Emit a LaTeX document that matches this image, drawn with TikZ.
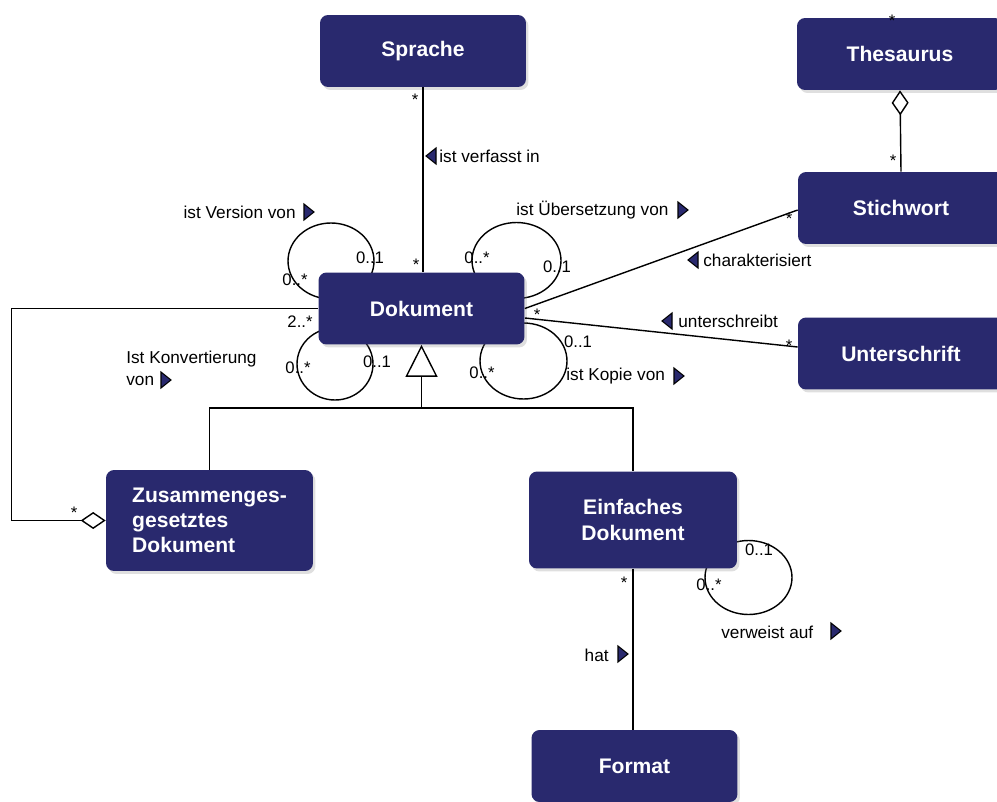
\documentclass[tikz,border=0pt]{standalone}
\usepackage{fontspec}
\setmainfont{Liberation Sans}
\usetikzlibrary{arrows.meta,shadows,backgrounds}
\definecolor{classblue}{RGB}{41,41,110}
\tikzset{
  cls/.style={rectangle, rounded corners=0.16cm, fill=classblue, text=white,
    font=\fontsize{12}{14.5}\selectfont\bfseries, minimum width=4.12cm, minimum height=1.44cm,
    drop shadow={shadow xshift=0.05cm, shadow yshift=-0.06cm, opacity=0.25}},
  mult/.style={inner sep=0pt, font=\fontsize{9.5}{11}\selectfont},
  lbl/.style={inner sep=0pt, font=\fontsize{9.8}{12.5}\selectfont},
  assoc/.style={line width=0.8pt},
  agg/.style={assoc, {Diamond[open, length=0.5cm, width=0.34cm]}-},
  gen/.style={assoc, -{Triangle[open, length=0.64cm, width=0.64cm]}},
  rtri/.pic={\draw[fill=classblue, line width=0.6pt] (-5,-8) -- (5,0) -- (-5,8) -- cycle;},
  ltri/.pic={\draw[fill=classblue, line width=0.6pt] (5,-8) -- (-5,0) -- (5,8) -- cycle;},
}
\begin{document}
\begin{tikzpicture}[x=0.02cm, y=-0.02cm]
    \useasboundingbox (0,0) rectangle (997,801);
    % classes
    \node[cls] (sprache) at (423, 51) {Sprache};
    \node[cls] (thesaurus) at (900, 54) {Thesaurus};
    \node[cls] (stichwort) at (901, 208) {Stichwort};
    \node[cls] (dokument) at (421.5, 308.5) {Dokument};
    \node[cls] (unterschrift) at (901, 353.5) {Unterschrift};
    \node[cls, align=left, minimum width=4.14cm, minimum height=2.02cm, font=\fontsize{12}{14.2}\selectfont\bfseries] (zusammen) at (209.5, 520.5) {Zusammenges-\\gesetztes\\Dokument};
    \node[cls, align=center, minimum width=4.16cm, minimum height=1.94cm] (einfach) at (633, 520) {Einfaches\\Dokument};
    \node[cls] (format) at (634.5, 766) {Format};

    % self loops
    \begin{scope}[on background layer]
        \draw[assoc] ([shift={(-90.5,-47.5)}]dokument.center) ellipse [x radius=0.86cm, y radius=0.76cm];
        \draw[assoc] ([shift={(95,-48)}]dokument.center) ellipse [x radius=0.89cm, y radius=0.76cm];
        \draw[assoc] ([shift={(-86.5,55.5)}]dokument.center) ellipse [x radius=0.76cm, y radius=0.72cm];
        \draw[assoc] ([shift={(102,52.5)}]dokument.center) ellipse [x radius=0.87cm, y radius=0.76cm];
        \draw[assoc] ([shift={(115.5,57.5)}]einfach.center) ellipse [x radius=0.87cm, y radius=0.74cm];
    \end{scope}

    % associations
    \draw[assoc] (sprache.south) -- (sprache.south |- dokument.north);
    \draw[agg] (thesaurus.south) -- (stichwort.north);
    \draw[assoc] (dokument.east) -- ([yshift=-0.04cm]stichwort.west);
    \draw[assoc] ([yshift=-0.19cm]dokument.east) -- ([yshift=0.13cm]unterschrift.west);
    \draw[agg] (zusammen.west) -- ++(-94,0) |- (dokument.west);
    \draw[assoc] (einfach.south) -- (einfach.south |- format.north);

    % generalization
    \coordinate (genjoin) at (dokument.south |- 0,408);
    \draw[assoc] (zusammen.north) |- (genjoin) -| (einfach.north);
    \draw[gen] (genjoin) -- (dokument.south);

    % association names
    \node[lbl, anchor=east] (lversion) at (296, 212) {ist Version von};
    \pic at (309, 212) {rtri};
    \node[lbl, anchor=west] (lverfasst) at (439, 156) {ist verfasst in};
    \pic at (431, 156) {ltri};
    \node[lbl, anchor=west] (luebers) at (516, 210) {ist Übersetzung von};
    \pic at (683, 210) {rtri};
    \node[lbl, anchor=west] (lcharakt) at (703, 260) {charakterisiert};
    \pic at (693, 260) {ltri};
    \node[lbl, anchor=west] (lunter) at (678, 321) {unterschreibt};
    \pic at (667, 321) {ltri};
    \node[lbl, anchor=north west, align=left] (lkonv) at (126, 351) {Ist Konvertierung\\von};
    \pic at (166, 380) {rtri};
    \node[lbl, anchor=west] (lkopie) at (566, 376) {ist Kopie von};
    \pic at (679, 376) {rtri};
    \node[lbl, anchor=east] (lhat) at (609, 655) {hat};
    \pic at (623, 654) {rtri};
    \node[lbl, anchor=west] (lverweist) at (721, 632) {verweist auf};
    \pic at (836, 631) {rtri};

    % multiplicities
    \node[mult] (m1) at (415, 100) {*};
    \node[mult] (m2) at (416, 265) {*};
    \node[mult] (m3) at (892, 21) {*};
    \node[mult] (m4) at (893, 161) {*};
    \node[mult] (m5) at (789, 219) {*};
    \node[mult] (m6) at (537, 315) {*};
    \node[mult] (m7) at (789, 346) {*};
    \node[mult] (m8) at (295, 280) {0..*};
    \node[mult] (m9) at (370, 258) {0..1};
    \node[mult] (m10) at (477, 258) {0..*};
    \node[mult] (m11) at (557, 267) {0..1};
    \node[mult] (m12) at (300, 322) {2..*};
    \node[mult] (m13) at (298, 368) {0..*};
    \node[mult] (m14) at (377, 362) {0..1};
    \node[mult] (m15) at (482, 373) {0..*};
    \node[mult] (m16) at (578, 342) {0..1};
    \node[mult] (m17) at (74, 513) {*};
    \node[mult] (m18) at (624, 583) {*};
    \node[mult] (m19) at (759, 550) {0..1};
    \node[mult] (m20) at (709, 585) {0..*};
\end{tikzpicture}
\end{document}
